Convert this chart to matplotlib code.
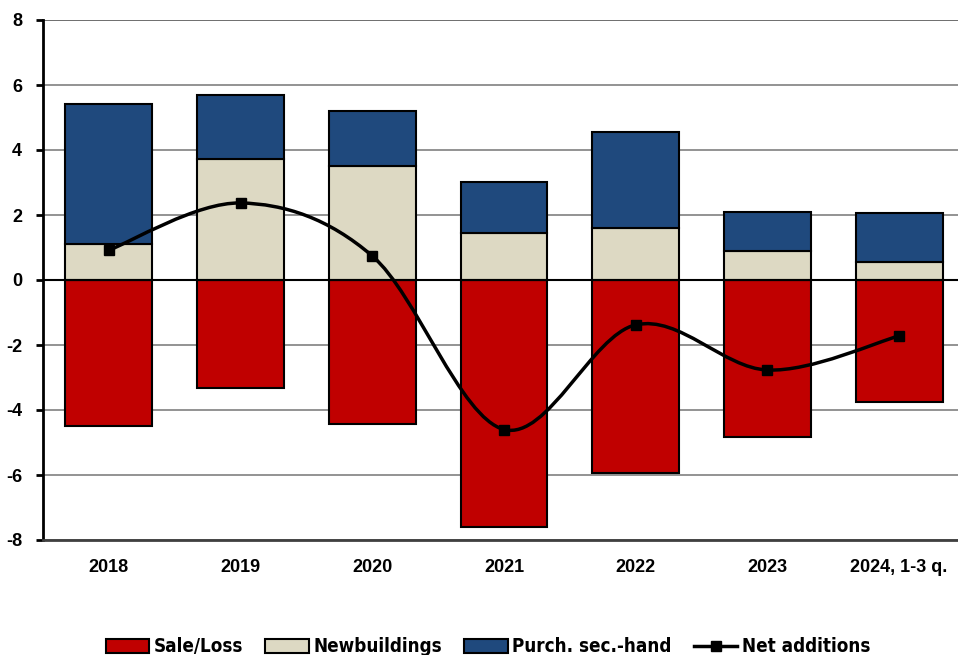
import matplotlib.pyplot as plt
import numpy as np
from matplotlib.path import Path
from matplotlib.patches import PathPatch, Patch
from matplotlib.lines import Line2D
from matplotlib import font_manager

categories = ["2018", "2019", "2020", "2021", "2022", "2023", "2024, 1-3 q."]
sale_loss = [-4.50, -3.32, -4.43, -7.60, -5.94, -4.83, -3.75]
newbuildings = [1.10, 3.72, 3.50, 1.45, 1.60, 0.90, 0.55]
purch_second_hand = [4.32, 1.97, 1.70, 1.57, 2.95, 1.19, 1.51]
net_additions = [0.92, 2.37, 0.74, -4.60, -1.38, -2.77, -1.72]

plt.rcParams["font.family"] = ["Liberation Sans", "DejaVu Sans"]
plt.rcParams["axes.unicode_minus"] = False

tick_font = font_manager.FontProperties(family="Liberation Sans", weight="bold",
                                        stretch="normal", size=13)
legend_font = font_manager.FontProperties(family="DejaVu Sans", weight="bold",
                                          stretch="condensed", size=13.5)

fig = plt.figure(figsize=(9.58, 6.55), dpi=100)
ax = fig.add_axes([43 / 958, 1 - 540 / 655, 922 / 958, 520 / 655])

x = np.arange(len(categories))
w = 0.66
ax.bar(x, sale_loss, w, color="#C00000", edgecolor="black", linewidth=1.5, zorder=3)
ax.bar(x, newbuildings, w, color="#DDD9C3", edgecolor="black", linewidth=1.5, zorder=3)
ax.bar(x, purch_second_hand, w, bottom=newbuildings, color="#1F497D",
       edgecolor="black", linewidth=1.5, zorder=3)

# smoothed line (Excel-like bezier through the points)
pts = np.column_stack([x, net_additions])
verts = [pts[0]]
codes = [Path.MOVETO]
t = 1 / 6
for i in range(len(pts) - 1):
    p0 = pts[i - 1] if i > 0 else pts[i]
    p1 = pts[i]
    p2 = pts[i + 1]
    p3 = pts[i + 2] if i + 2 < len(pts) else pts[i + 1]
    verts += [p1 + (p2 - p0) * t, p2 - (p3 - p1) * t, p2]
    codes += [Path.CURVE4] * 3
ax.add_patch(PathPatch(Path(verts, codes), facecolor="none", edgecolor="black",
                       linewidth=2.5, zorder=4))
ax.plot(x, net_additions, linestyle="none", marker="s", markersize=7,
        color="black", zorder=5)

ax.set_xlim(-0.5, len(categories) - 0.5)
ax.set_ylim(-8, 8)
ax.set_yticks(range(-8, 9, 2))
ax.grid(axis="y", color="#808080", linewidth=1.2, zorder=0)
ax.axhline(0, color="black", linewidth=1.5, zorder=3.5)
ax.axhline(8, color="black", linewidth=1.2, zorder=1)

for s in ["top", "right"]:
    ax.spines[s].set_visible(False)
ax.spines["left"].set_linewidth(2)
ax.spines["bottom"].set_color("#404040")
ax.spines["bottom"].set_linewidth(2)

ax.set_xticks(x)
ax.set_xticklabels(categories)
ax.tick_params(axis="x", length=0, pad=14)
ax.tick_params(axis="y", direction="out", length=5, width=2, pad=10)
for lbl in ax.get_xticklabels() + ax.get_yticklabels():
    lbl.set_fontproperties(tick_font)

handles = [
    Patch(facecolor="#C00000", edgecolor="black", linewidth=1.5),
    Patch(facecolor="#DDD9C3", edgecolor="black", linewidth=1.5),
    Patch(facecolor="#1F497D", edgecolor="black", linewidth=1.5),
    Line2D([0], [0], color="black", linewidth=2.5, marker="s", markersize=7),
]
labels = ["Sale/Loss", "Newbuildings", "Purch. sec.-hand", "Net additions"]
fig.legend(handles, labels, loc="center", bbox_to_anchor=(488 / 958, 1 - 647 / 655),
           ncol=4, frameon=False, prop=legend_font,
           handlelength=2.3, handleheight=0.8, handletextpad=0.25, columnspacing=1.2)

fig.savefig("out.png", dpi=100)
